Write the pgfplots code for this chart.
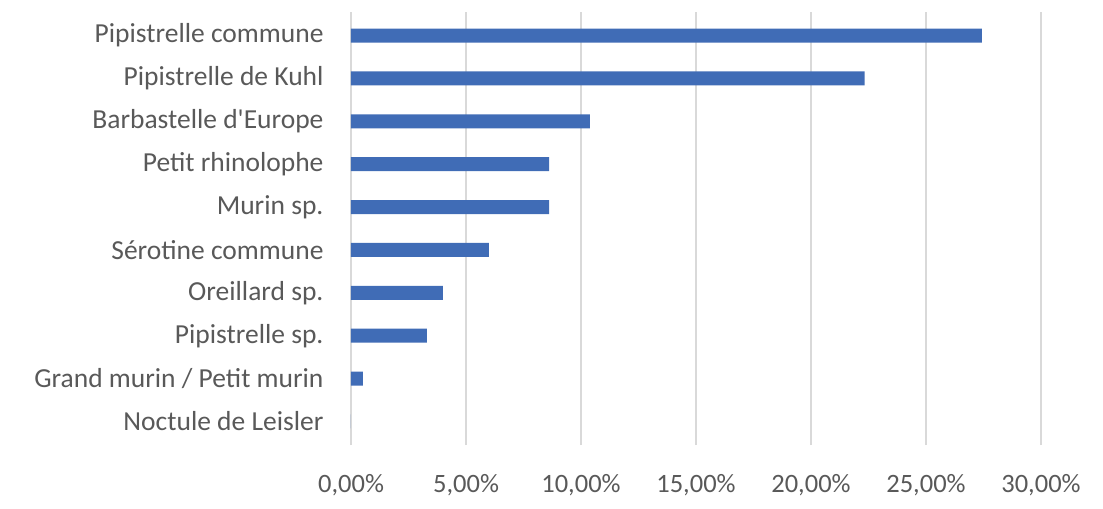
\documentclass[border=0pt]{standalone}
\usepackage{fontspec}
\setmainfont{Carlito}[Ligatures=TeXOff]
\usepackage{pgfplots}
\pgfplotsset{compat=1.18}
\definecolor{barblue}{HTML}{406CB6}
\definecolor{txtgray}{HTML}{595959}
\definecolor{gridgray}{HTML}{D9D9D9}
\begin{document}
\fontsize{13}{15}\selectfont
\begin{tikzpicture}
\begin{axis}[
  scale only axis,
  width=345bp, height=216.5bp,
  xbar, bar width=7bp,
  xmin=0, xmax=30,
  ymin=-0.55, ymax=9.55,
  xtick={0,5,10,15,20,25,30},
  xticklabels={{0,00\%},{5,00\%},{10,00\%},{15,00\%},{20,00\%},{25,00\%},{30,00\%}},
  ytick={0,1,2,3,4,5,6,7,8,9},
  yticklabels={Noctule de Leisler,Grand murin / Petit murin,Pipistrelle sp.,Oreillard sp.,Sérotine commune,Murin sp.,Petit rhinolophe,Barbastelle d'Europe,Pipistrelle de Kuhl,Pipistrelle commune},
  xmajorgrids, major grid style={gridgray, line width=0.8bp},
  axis line style={draw=none},
  major tick style={draw=none},
  tick label style={text=txtgray},
  xticklabel style={yshift=-10bp, font=\fontsize{13.3}{15}\selectfont},
  yticklabel style={anchor=east, xshift=-5bp, font=\fontsize{13.8}{15}\selectfont},
  /pgf/number format/assume math mode=true,
]
\addplot[fill=barblue, draw=none] coordinates {
  (0,0) (0.52,1) (3.30,2) (4.00,3) (6.00,4) (8.61,5) (8.61,6) (10.39,7) (22.33,8) (27.43,9)
};
\end{axis}
\path (current axis.south west) ++(-175.5bp,-32bp) coordinate (bl);
\path (current axis.north east) ++(31bp,6bp) coordinate (tr);
\path (bl) rectangle (tr);
\end{tikzpicture}
\end{document}
